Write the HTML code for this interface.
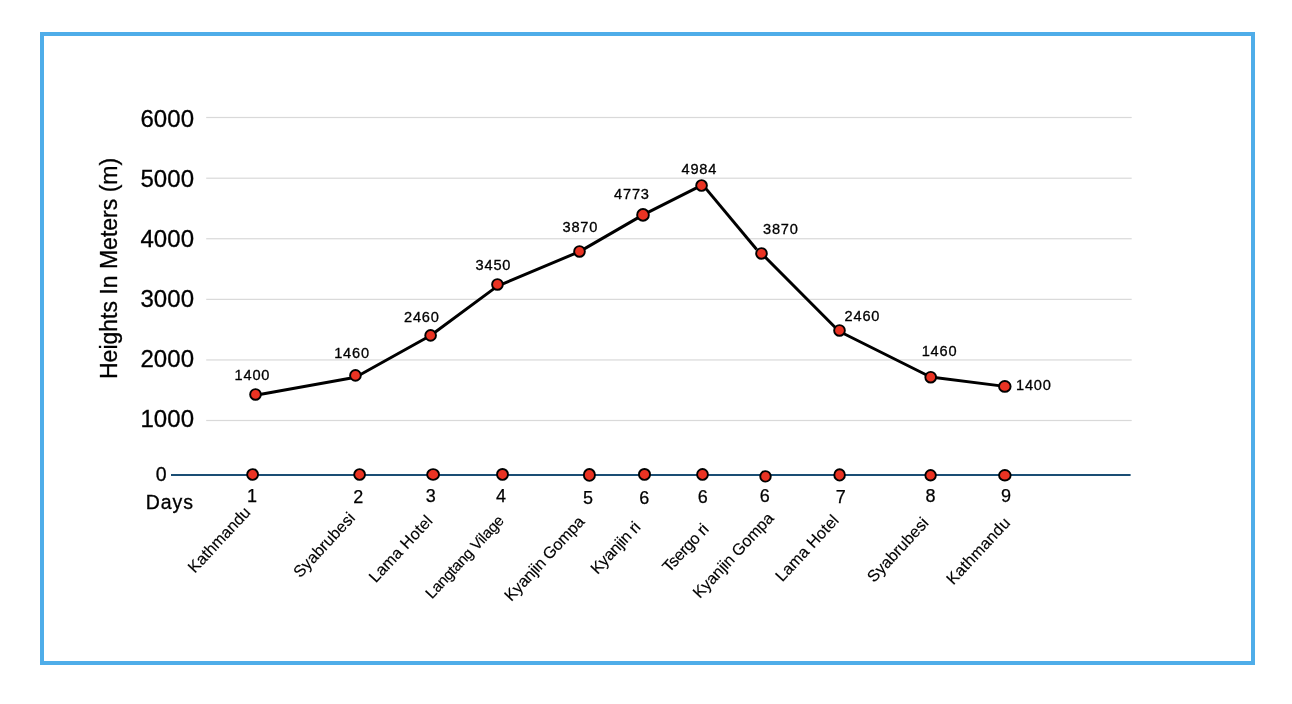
<!DOCTYPE html>
<html lang="en">
<head>
<meta charset="utf-8">
<title>Langtang Trek – Heights In Meters</title>
<style>
html,body{margin:0;padding:0;background:#fff;}
body{width:1292px;height:704px;overflow:hidden;position:relative;}
.frame{position:absolute;left:40px;top:32px;width:1207px;height:625px;border:4px solid #4FADE9;background:#fff;}
svg{position:absolute;left:0;top:0;}
text{font-family:"Liberation Sans", Arial, Helvetica, sans-serif;fill:#000;}
.yl{font-size:24px;letter-spacing:0.1px;stroke:#000;stroke-width:0.3px;}
.dl{font-size:14.6px;letter-spacing:0.8px;stroke:#000;stroke-width:0.3px;}
.dn{font-size:18px;stroke:#000;stroke-width:0.25px;}
.rl{font-size:16.2px;stroke:#000;stroke-width:0.15px;}
</style>
</head>
<body>
<div class="frame"></div>
<svg width="1292" height="704" viewBox="0 0 1292 704">
<g fill="#d9d9d9">
<rect x="206.2" y="116.90" width="925.5" height="1.2"/>
<rect x="206.2" y="177.60" width="925.5" height="1.2"/>
<rect x="206.2" y="238.15" width="925.5" height="1.2"/>
<rect x="206.2" y="298.75" width="925.5" height="1.2"/>
<rect x="206.2" y="359.35" width="925.5" height="1.2"/>
<rect x="206.2" y="419.90" width="925.5" height="1.2"/>
</g>
<rect x="171" y="474" width="959.6" height="2" fill="#1A4E74"/>
<g class="yl" text-anchor="end">
<text x="194.2" y="127.1">6000</text>
<text x="194.2" y="187.2">5000</text>
<text x="194.2" y="247.0">4000</text>
<text x="194.2" y="307.2">3000</text>
<text x="194.2" y="367.0">2000</text>
<text x="194.2" y="427.2">1000</text>
</g>
<text x="166.7" y="480.8" text-anchor="end" font-size="19.5" stroke="#000" stroke-width="0.3">0</text>
<text x="145.8" y="508.6" font-size="19.5" letter-spacing="0.9" stroke="#000" stroke-width="0.3">Days</text>
<text transform="translate(116.8,379) rotate(-90)" font-size="23" stroke="#000" stroke-width="0.3">Heights In Meters (m)</text>
<g fill="none" stroke="#000" stroke-width="2.95" stroke-linejoin="round">
<path d="M255.5,395.2 L355.6,377.3 L430.6,335.5 L497.4,286.1 L579.5,251.6 L643.0,214.9 L701.5,185.4"/>
<path d="M702.6,184.6 L756.7,249.5"/>
<path d="M761.5,253.4 L839.0,331.2 L930.6,377.0 L1004.8,386.4"/>
</g>
<g fill="#EA3323" stroke="#000" stroke-width="1.9">
<circle cx="255.5" cy="394.45" r="5.35"/>
<circle cx="355.45" cy="375.4" r="5.35"/>
<circle cx="430.6" cy="335.4" r="5.35"/>
<circle cx="497.45" cy="284.45" r="5.35"/>
<circle cx="579.5" cy="251.45" r="5.35"/>
<circle cx="643.0" cy="214.9" r="5.85"/>
<circle cx="701.55" cy="185.5" r="5.35"/>
<circle cx="761.5" cy="253.45" r="5.35"/>
<circle cx="839.5" cy="330.45" r="5.35"/>
<circle cx="930.7" cy="377.2" r="5.35"/>
<ellipse cx="1004.8" cy="386.4" rx="5.8" ry="5.4"/>
<ellipse cx="252.6" cy="474.5" rx="5.45" ry="5.35"/>
<ellipse cx="359.6" cy="474.5" rx="5.40" ry="5.35"/>
<ellipse cx="433.1" cy="474.5" rx="5.95" ry="5.35"/>
<ellipse cx="502.5" cy="474.4" rx="5.45" ry="5.45"/>
<ellipse cx="589.4" cy="474.95" rx="5.55" ry="5.95"/>
<ellipse cx="644.5" cy="474.4" rx="5.55" ry="5.45"/>
<ellipse cx="702.5" cy="474.4" rx="5.40" ry="5.45"/>
<ellipse cx="765.5" cy="476.4" rx="5.25" ry="5.25"/>
<ellipse cx="839.6" cy="474.9" rx="5.30" ry="5.70"/>
<ellipse cx="930.6" cy="475.3" rx="5.25" ry="5.25"/>
<ellipse cx="1004.85" cy="475.3" rx="5.80" ry="5.25"/>
</g>
<g class="dl">
<text x="234.6" y="379.9">1400</text>
<text x="334.2" y="357.9">1460</text>
<text x="404.0" y="322.3">2460</text>
<text x="475.6" y="269.9">3450</text>
<text x="562.5" y="231.9">3870</text>
<text x="614.1" y="199.0">4773</text>
<text x="681.5" y="174.0">4984</text>
<text x="763.0" y="234.1">3870</text>
<text x="844.6" y="321.3">2460</text>
<text x="921.7" y="356.2">1460</text>
<text x="1016.0" y="390.0">1400</text>
</g>
<g class="dn" text-anchor="middle">
<text x="251.9" y="501.6">1</text>
<text x="358.3" y="503.0">2</text>
<text x="430.8" y="501.9">3</text>
<text x="501.0" y="501.8">4</text>
<text x="588.0" y="503.8">5</text>
<text x="644.2" y="504.1">6</text>
<text x="702.8" y="502.7">6</text>
<text x="764.8" y="501.9">6</text>
<text x="840.8" y="503.2">7</text>
<text x="930.5" y="501.9">8</text>
<text x="1005.9" y="501.9">9</text>
</g>
<g class="rl">
<text transform="translate(194.8,573.8) rotate(-47)" letter-spacing="0.03">Kathmandu</text>
<text transform="translate(300.2,578.4) rotate(-47)" letter-spacing="0.08">Syabrubesi</text>
<text transform="translate(375.7,583.6) rotate(-47)" letter-spacing="0.20">Lama Hotel</text>
<text transform="translate(432.0,599.4) rotate(-47)" letter-spacing="-0.25" style="font-size:15.3px">Langtang Vilage</text>
<text transform="translate(511.3,601.9) rotate(-47)" letter-spacing="-0.18">Kyanjin Gompa</text>
<text transform="translate(597.4,575.1) rotate(-47)" letter-spacing="-0.21">Kyanjin ri</text>
<text transform="translate(669.2,573.3) rotate(-47)" letter-spacing="-0.35">Tsergo ri</text>
<text transform="translate(699.7,599.1) rotate(-47)" letter-spacing="-0.08">Kyanjin Gompa</text>
<text transform="translate(782.2,582.6) rotate(-47)" letter-spacing="0.16">Lama Hotel</text>
<text transform="translate(874.0,583.3) rotate(-47)" letter-spacing="0.05">Syabrubesi</text>
<text transform="translate(953.3,585.6) rotate(-47)" letter-spacing="0.23">Kathmandu</text>
</g>
</svg>
</body>
</html>
